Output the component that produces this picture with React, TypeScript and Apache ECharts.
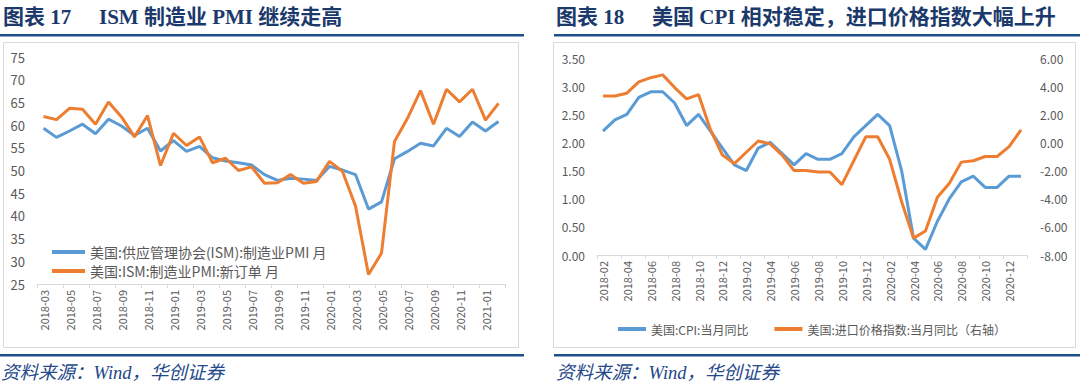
import React, { useEffect, useRef } from "react";
import * as echarts from "echarts";

// ---------- Left chart data (2018-03 .. 2021-02) ----------
const leftMonths = [
  "2018-03","2018-04","2018-05","2018-06","2018-07","2018-08","2018-09","2018-10","2018-11","2018-12",
  "2019-01","2019-02","2019-03","2019-04","2019-05","2019-06","2019-07","2019-08","2019-09","2019-10","2019-11","2019-12",
  "2020-01","2020-02","2020-03","2020-04","2020-05","2020-06","2020-07","2020-08","2020-09","2020-10","2020-11","2020-12",
  "2021-01","2021-02",
];
const ismPmi = [
  59.3, 57.3, 58.7, 60.2, 58.1, 61.3, 59.8, 57.7, 59.3, 54.3,
  56.6, 54.2, 55.3, 52.8, 52.1, 51.7, 51.2, 49.1, 47.8, 48.3, 48.1, 47.8,
  50.9, 50.1, 49.1, 41.5, 43.1, 52.6, 54.2, 56.0, 55.4, 59.3, 57.5, 60.7,
  58.7, 60.8,
];
const ismNewOrders = [
  61.9, 61.2, 63.7, 63.5, 60.2, 65.1, 61.8, 57.4, 62.1, 51.1,
  58.2, 55.5, 57.4, 51.7, 52.7, 50.0, 50.8, 47.2, 47.3, 49.1, 47.2, 47.6,
  52.0, 49.8, 42.2, 27.1, 31.8, 56.4, 61.5, 67.6, 60.2, 67.9, 65.1, 67.9,
  61.1, 64.8,
];
const leftNames = ["美国:供应管理协会(ISM):制造业PMI 月", "美国:ISM:制造业PMI:新订单 月"];

// ---------- Right chart data (2018-02 .. 2021-01) ----------
const rightMonths = [
  "2018-02","2018-03","2018-04","2018-05","2018-06","2018-07","2018-08","2018-09","2018-10","2018-11","2018-12",
  "2019-01","2019-02","2019-03","2019-04","2019-05","2019-06","2019-07","2019-08","2019-09","2019-10","2019-11","2019-12",
  "2020-01","2020-02","2020-03","2020-04","2020-05","2020-06","2020-07","2020-08","2020-09","2020-10","2020-11","2020-12",
  "2021-01",
];
const usCpi = [
  2.2, 2.4, 2.5, 2.8, 2.9, 2.9, 2.7, 2.3, 2.5, 2.2, 1.9,
  1.6, 1.5, 1.9, 2.0, 1.8, 1.6, 1.8, 1.7, 1.7, 1.8, 2.1, 2.3,
  2.5, 2.3, 1.5, 0.3, 0.1, 0.6, 1.0, 1.3, 1.4, 1.2, 1.2, 1.4,
  1.4,
];
const usImportPrice = [
  3.3, 3.3, 3.5, 4.3, 4.6, 4.8, 3.9, 3.1, 3.4, 0.9, -0.9,
  -1.5, -0.7, 0.1, -0.1, -0.9, -2.0, -2.0, -2.1, -2.1, -3.0, -1.3, 0.4,
  0.4, -1.2, -4.2, -6.8, -6.3, -3.9, -2.9, -1.4, -1.3, -1.0, -1.0, -0.3,
  0.9,
];
const rightNames = ["美国:CPI:当月同比", "美国:进口价格指数:当月同比（右轴）"];

const titleLeft = ["图表 17", "ISM 制造业 PMI 继续走高"];
const titleRight = ["图表 18", "美国 CPI 相对稳定，进口价格指数大幅上升"];
const sourceText = "资料来源：Wind，华创证券";

const BLUE = "#5b9bd5";
const ORANGE = "#ed7d31";
const NAVY = "#1f4e8c";
const GRAY = "#595959";
const SANS = "'Noto Sans CJK SC', 'Noto Sans', sans-serif";
const SERIF = "'Liberation Serif', 'Noto Sans CJK SC', serif";

export default function App() {
  const ref = useRef<HTMLDivElement>(null);
  useEffect(() => {
    document.body.style.margin = "0";
    const chart = echarts.init(ref.current!, null, { renderer: "svg" });
    const titleStyle = (text: string) => ({
      text,
      fill: "#1b3a6b",
      fontSize: 21,
      fontWeight: "bold",
      fontFamily: SERIF,
      verticalAlign: "middle",
    });
    const sourceStyle = {
      text: sourceText,
      fill: "#24488a",
      fontSize: 18.5,
      fontStyle: "italic",
      fontFamily: SERIF,
      verticalAlign: "middle",
    };
    const xLabel = {
      rotate: 90,
      interval: 1,
      fontSize: 11,
      color: GRAY,
      fontFamily: SANS,
      margin: 6,
    };
    chart.setOption({
      animation: false,
      backgroundColor: "#ffffff",
      graphic: [
        { type: "rect", shape: { x: 3.5, y: 42.5, width: 515, height: 305 }, style: { fill: "none", stroke: "#d9d9d9", lineWidth: 1 } },
        { type: "rect", shape: { x: 553.5, y: 42.5, width: 522, height: 305 }, style: { fill: "none", stroke: "#d9d9d9", lineWidth: 1 } },
        { type: "rect", shape: { x: 0, y: 34, width: 524, height: 2.5 }, style: { fill: NAVY } },
        { type: "rect", shape: { x: 554, y: 34, width: 526, height: 2.5 }, style: { fill: NAVY } },
        { type: "rect", shape: { x: 0, y: 354, width: 524, height: 2.5 }, style: { fill: NAVY } },
        { type: "rect", shape: { x: 554, y: 354, width: 526, height: 2.5 }, style: { fill: NAVY } },
        { type: "text", x: 3, y: 17, style: titleStyle(titleLeft[0]) },
        { type: "text", x: 99, y: 17, style: titleStyle(titleLeft[1]) },
        { type: "text", x: 556, y: 17, style: titleStyle(titleRight[0]) },
        { type: "text", x: 652, y: 17, style: titleStyle(titleRight[1]) },
        { type: "text", x: 1, y: 373, style: sourceStyle },
        { type: "text", x: 556, y: 373, style: sourceStyle },
      ],
      legend: [
        {
          data: leftNames,
          orient: "vertical",
          left: 47,
          top: 240,
          itemGap: 5,
          itemWidth: 33,
          itemHeight: 4,
          icon: "rect",
          textStyle: { fontSize: 14, color: GRAY, fontFamily: SANS },
        },
        {
          data: rightNames,
          orient: "horizontal",
          left: 613,
          top: 318,
          itemGap: 26,
          itemWidth: 28,
          itemHeight: 4,
          icon: "rect",
          textStyle: { fontSize: 12, color: GRAY, fontFamily: SANS },
        },
      ],
      grid: [
        { left: 37, top: 57, width: 468, height: 227 },
        { left: 597, top: 58, width: 430, height: 197 },
      ],
      xAxis: [
        {
          type: "category",
          gridIndex: 0,
          data: leftMonths,
          boundaryGap: true,
          axisLine: { lineStyle: { color: "#d9d9d9" } },
          axisTick: { show: true, interval: 1, length: 4, lineStyle: { color: "#d9d9d9" } },
          axisLabel: xLabel,
        },
        {
          type: "category",
          gridIndex: 1,
          data: rightMonths,
          boundaryGap: true,
          axisLine: { lineStyle: { color: "#d9d9d9" } },
          axisTick: { show: true, interval: 1, length: 4, lineStyle: { color: "#d9d9d9" } },
          axisLabel: xLabel,
        },
      ],
      yAxis: [
        {
          type: "value",
          gridIndex: 0,
          min: 25,
          max: 75,
          interval: 5,
          axisLine: { show: false },
          axisTick: { show: false },
          splitLine: { show: false },
          axisLabel: { fontSize: 13, color: GRAY, fontFamily: SANS, margin: 12 },
        },
        {
          type: "value",
          gridIndex: 1,
          min: 0,
          max: 3.5,
          interval: 0.5,
          axisLine: { show: false },
          axisTick: { show: false },
          splitLine: { show: false },
          axisLabel: { fontSize: 12, color: GRAY, fontFamily: SANS, margin: 12, formatter: (v: number) => v.toFixed(2) },
        },
        {
          type: "value",
          gridIndex: 1,
          position: "right",
          min: -8,
          max: 6,
          interval: 2,
          axisLine: { show: false },
          axisTick: { show: false },
          splitLine: { show: false },
          axisLabel: { fontSize: 12, color: GRAY, fontFamily: SANS, margin: 13, formatter: (v: number) => v.toFixed(2) },
        },
      ],
      series: [
        { name: leftNames[0], type: "line", xAxisIndex: 0, yAxisIndex: 0, data: ismPmi, symbol: "none", color: BLUE, lineStyle: { width: 3, color: BLUE } },
        { name: leftNames[1], type: "line", xAxisIndex: 0, yAxisIndex: 0, data: ismNewOrders, symbol: "none", color: ORANGE, lineStyle: { width: 3, color: ORANGE } },
        { name: rightNames[0], type: "line", xAxisIndex: 1, yAxisIndex: 1, data: usCpi, symbol: "none", color: BLUE, lineStyle: { width: 3, color: BLUE } },
        { name: rightNames[1], type: "line", xAxisIndex: 1, yAxisIndex: 2, data: usImportPrice, symbol: "none", color: ORANGE, lineStyle: { width: 3, color: ORANGE } },
      ],
    });
    return () => chart.dispose();
  }, []);
  return <div ref={ref} style={{ position: "absolute", left: 0, top: 0, width: 1080, height: 390 }} />;
}
